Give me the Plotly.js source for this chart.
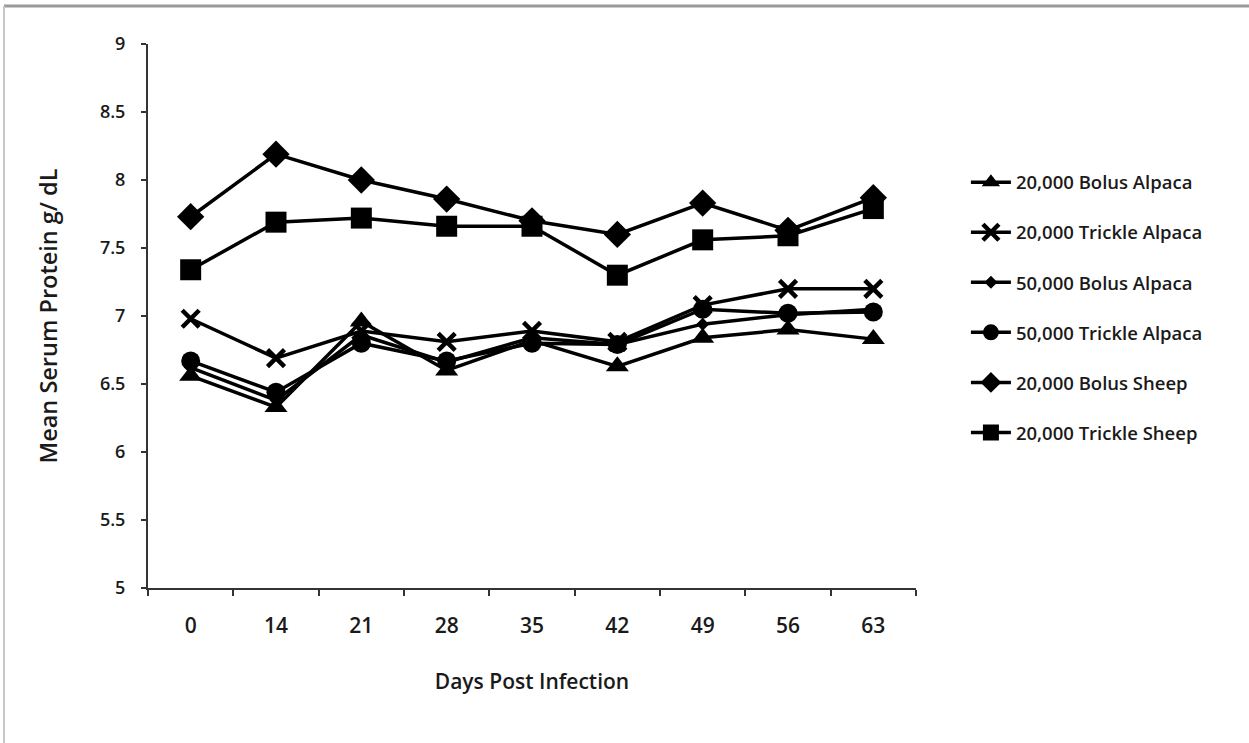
<!DOCTYPE html>
<html>
<head>
<meta charset="utf-8">
<script src="https://cdn.plot.ly/plotly-3.0.1.min.js"></script>
<style>
html,body{margin:0;padding:0;background:#fff;}
#chart{width:1249px;height:743px;}
</style>
</head>
<body>
<div id="chart"></div>
<script>
const days = ["0","14","21","28","35","42","49","56","63"];
const bolusAlpaca20k   = [6.56, 6.33, 6.96, 6.60, 6.82, 6.63, 6.84, 6.90, 6.83];
const trickleAlpaca20k = [6.98, 6.69, 6.89, 6.81, 6.89, 6.81, 7.08, 7.20, 7.20];
const bolusAlpaca50k   = [6.62, 6.38, 6.86, 6.66, 6.84, 6.79, 6.94, 7.01, 7.05];
const trickleAlpaca50k = [6.67, 6.44, 6.80, 6.67, 6.80, 6.79, 7.05, 7.02, 7.03];
const bolusSheep20k    = [7.73, 8.19, 8.00, 7.86, 7.70, 7.60, 7.83, 7.63, 7.87];
const trickleSheep20k  = [7.34, 7.69, 7.72, 7.66, 7.66, 7.30, 7.56, 7.59, 7.79];
const seriesNames = ["20,000 Bolus Alpaca","20,000 Trickle Alpaca","50,000 Bolus Alpaca","50,000 Trickle Alpaca","20,000 Bolus Sheep","20,000 Trickle Sheep"];
const yTicks = [5,5.5,6,6.5,7,7.5,8,8.5,9];

const seriesData = [bolusAlpaca20k, trickleAlpaca20k, bolusAlpaca50k, trickleAlpaca50k, bolusSheep20k, trickleSheep20k];
const symbols = ["triangle-up","x-thin-open","diamond","circle","diamond","square"];
const sizes = [20, 17, 10, 19, 21, 21];

const traces = seriesData.map((vals, i) => ({
  type: "scatter",
  mode: "lines+markers",
  x: days,
  y: vals,
  name: seriesNames[i],
  legendgroup: "g" + i,
  line: {color: "#000", width: 3.5},
  marker: {
    symbol: symbols[i],
    size: sizes[i],
    color: "#000",
    line: {color: "#000", width: symbols[i] === "x-thin-open" ? 4.5 : 0}
  }
}));

const font = "Open Sans, Lato, sans-serif";
const txt = "#1a1a1a";

const layout = {
  width: 1249,
  height: 743,
  margin: {l: 148, r: 333, t: 44, b: 155},
  paper_bgcolor: "#fff",
  plot_bgcolor: "#fff",
  showlegend: true,
  font: {family: font, size: 15, color: txt},
  legend: {
    x: 1.065, y: 0.78, xanchor: "left", yanchor: "top",
    traceorder: "grouped",
    tracegroupgap: 23,
    font: {family: font, size: 18.5, color: txt, weight: 600},
    itemwidth: 40
  },
  xaxis: {
    type: "category",
    categoryarray: days,
    range: [-0.5, 8.5],
    autorange: false,
    showline: true, linecolor: "#333", linewidth: 2,
    ticks: "outside", tickson: "boundaries", ticklen: 6, tickwidth: 2, tickcolor: "#333",
    ticklabelstandoff: 18,
    showgrid: false, zeroline: false,
    tickfont: {family: font, size: 21, color: txt, weight: 600},
    title: {text: "Days Post Infection", font: {family: font, size: 21, color: txt, weight: 600}, standoff: 36}
  },
  yaxis: {
    range: [5, 9],
    autorange: false,
    tickvals: yTicks,
    ticktext: yTicks.map(String),
    showline: true, linecolor: "#333", linewidth: 2,
    ticks: "outside", ticklen: 5, tickwidth: 2, tickcolor: "#333",
    ticklabelstandoff: 12,
    showgrid: false, zeroline: false,
    tickfont: {family: font, size: 18, color: txt, weight: 600},
    title: {text: "Mean Serum Protein g/ dL", font: {family: font, size: 23.5, color: txt, weight: 600}, standoff: 36}
  },
  shapes: [
    {type: "line", xref: "paper", yref: "paper", x0: -0.1875, x1: 1.45, y0: 1.0699, y1: 1.0699, line: {color: "#9a9a9a", width: 3}},
    {type: "line", xref: "paper", yref: "paper", x0: -0.1875, x1: -0.1875, y0: 1.0699, y1: -0.30, line: {color: "#c8c8c8", width: 2}}
  ]
};

Plotly.newPlot("chart", traces, layout, {displayModeBar: false, staticPlot: true});
</script>
</body>
</html>
